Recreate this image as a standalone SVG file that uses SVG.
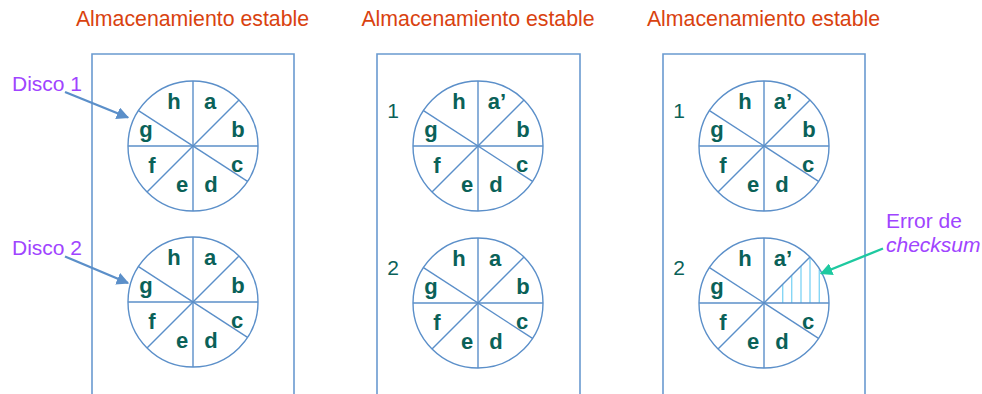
<svg xmlns="http://www.w3.org/2000/svg" width="982" height="394" viewBox="0 0 982 394">
<style>
.title{font-family:"Liberation Sans",Arial,sans-serif;font-size:21.3px;fill:#d9420f;text-anchor:middle}
.lab{font-family:"Liberation Sans",Arial,sans-serif;font-size:22px;font-weight:bold;fill:#0a6158;text-anchor:middle}
.num{font-family:"Liberation Sans",Arial,sans-serif;font-size:21px;fill:#0a6158;text-anchor:middle}
.note{font-family:"Liberation Sans",Arial,sans-serif;font-size:21px;fill:#a044ff}
.box{fill:none;stroke:#6a9ad0;stroke-width:1.6}
.disc{fill:none;stroke:#5b8fc9;stroke-width:1.4}
.hatch{stroke:#86d6f5;stroke-width:1.4}
</style>
<defs>
<g id="discShape">
<circle cx="0" cy="0" r="65" class="disc"/>
<line x1="0" y1="-65" x2="0" y2="65" class="disc"/>
<line x1="-65" y1="0" x2="65" y2="0" class="disc"/>
<line x1="46" y1="-46" x2="-46" y2="46" class="disc"/>
<line x1="-54.5" y1="-35.4" x2="54.5" y2="35.4" class="disc"/>
</g>
<marker id="arrBlue" viewBox="0 0 10 10" refX="9" refY="5" markerWidth="5.2" markerHeight="5.2" orient="auto" markerUnits="strokeWidth">
<path d="M0,0 L10,5 L0,10 z" fill="#5b8fc9"/>
</marker>
<marker id="arrTeal" viewBox="0 0 10 10" refX="9" refY="5" markerWidth="5.2" markerHeight="5.2" orient="auto" markerUnits="strokeWidth">
<path d="M0,0 L10,5 L0,10 z" fill="#1ec9a0"/>
</marker>
</defs>

<g id="titles">
<text class="title" x="192.5" y="26">Almacenamiento estable</text>
<text class="title" x="478" y="26">Almacenamiento estable</text>
<text class="title" x="763.5" y="26">Almacenamiento estable</text>
</g>

<g id="box1"><polyline class="box" points="92,400 92,54 294,54 294,400"/></g>
<g id="box2"><polyline class="box" points="377,400 377,54 580,54 580,400"/></g>
<g id="box3"><polyline class="box" points="663,400 663,54 865,54 865,400"/></g>

<g id="disk1a">
<use href="#discShape" transform="translate(193,146)"/>
<text class="lab" x="174" y="109">h</text>
<text class="lab" x="210" y="109">a</text>
<text class="lab" x="238" y="137">b</text>
<text class="lab" x="146" y="137">g</text>
<text class="lab" x="152" y="173">f</text>
<text class="lab" x="237" y="172">c</text>
<text class="lab" x="182" y="192">e</text>
<text class="lab" x="211" y="192">d</text>
</g>

<g id="disk1b">
<use href="#discShape" transform="translate(193,302)"/>
<text class="lab" x="174" y="265">h</text>
<text class="lab" x="210" y="265">a</text>
<text class="lab" x="238" y="293">b</text>
<text class="lab" x="146" y="293">g</text>
<text class="lab" x="152" y="329">f</text>
<text class="lab" x="237" y="328">c</text>
<text class="lab" x="182" y="348">e</text>
<text class="lab" x="211" y="348">d</text>
</g>

<g id="disk2a">
<text class="num" x="393" y="118">1</text>
<use href="#discShape" transform="translate(478,146)"/>
<text class="lab" x="459" y="109">h</text>
<text class="lab" x="497" y="109">a’</text>
<text class="lab" x="523" y="137">b</text>
<text class="lab" x="431" y="137">g</text>
<text class="lab" x="437" y="173">f</text>
<text class="lab" x="522" y="172">c</text>
<text class="lab" x="467" y="192">e</text>
<text class="lab" x="496" y="192">d</text>
</g>

<g id="disk2b">
<text class="num" x="393" y="275">2</text>
<use href="#discShape" transform="translate(478,303)"/>
<text class="lab" x="459" y="266">h</text>
<text class="lab" x="495" y="266">a</text>
<text class="lab" x="523" y="294">b</text>
<text class="lab" x="431" y="294">g</text>
<text class="lab" x="437" y="330">f</text>
<text class="lab" x="522" y="329">c</text>
<text class="lab" x="467" y="349">e</text>
<text class="lab" x="496" y="349">d</text>
</g>

<g id="disk3a">
<text class="num" x="679" y="118">1</text>
<use href="#discShape" transform="translate(764,146)"/>
<text class="lab" x="745" y="109">h</text>
<text class="lab" x="783" y="109">a’</text>
<text class="lab" x="809" y="137">b</text>
<text class="lab" x="717" y="137">g</text>
<text class="lab" x="723" y="173">f</text>
<text class="lab" x="808" y="172">c</text>
<text class="lab" x="753" y="192">e</text>
<text class="lab" x="782" y="192">d</text>
</g>

<g id="disk3b">
<text class="num" x="679" y="275">2</text>
<g>
<line class="hatch" x1="782.7" y1="284.3" x2="782.7" y2="303"/>
<line class="hatch" x1="791.7" y1="275.3" x2="791.7" y2="303"/>
<line class="hatch" x1="801" y1="266" x2="801" y2="303"/>
<line class="hatch" x1="810" y1="257.5" x2="810" y2="303"/>
<line class="hatch" x1="819.3" y1="269.5" x2="819.3" y2="303"/>
</g>
<use href="#discShape" transform="translate(764,303)"/>
<text class="lab" x="745" y="266">h</text>
<text class="lab" x="783" y="266">a’</text>
<text class="lab" x="717" y="294">g</text>
<text class="lab" x="723" y="330">f</text>
<text class="lab" x="808" y="329">c</text>
<text class="lab" x="753" y="349">e</text>
<text class="lab" x="782" y="349">d</text>
</g>

<g id="notes">
<text class="note" x="12" y="91">Disco 1</text>
<text class="note" x="12" y="255">Disco 2</text>
<text class="note" x="886" y="228">Error de</text>
<text class="note" x="886" y="252" font-style="italic">checksum</text>
</g>

<g id="connectors">
<line x1="65" y1="92" x2="128" y2="117.5" stroke="#5b8fc9" stroke-width="2.4" marker-end="url(#arrBlue)"/>
<line x1="65" y1="256.5" x2="128" y2="283" stroke="#5b8fc9" stroke-width="2.4" marker-end="url(#arrBlue)"/>
<line x1="883" y1="248.5" x2="821" y2="273.5" stroke="#1ec9a0" stroke-width="2.4" marker-end="url(#arrTeal)"/>
</g>
</svg>
